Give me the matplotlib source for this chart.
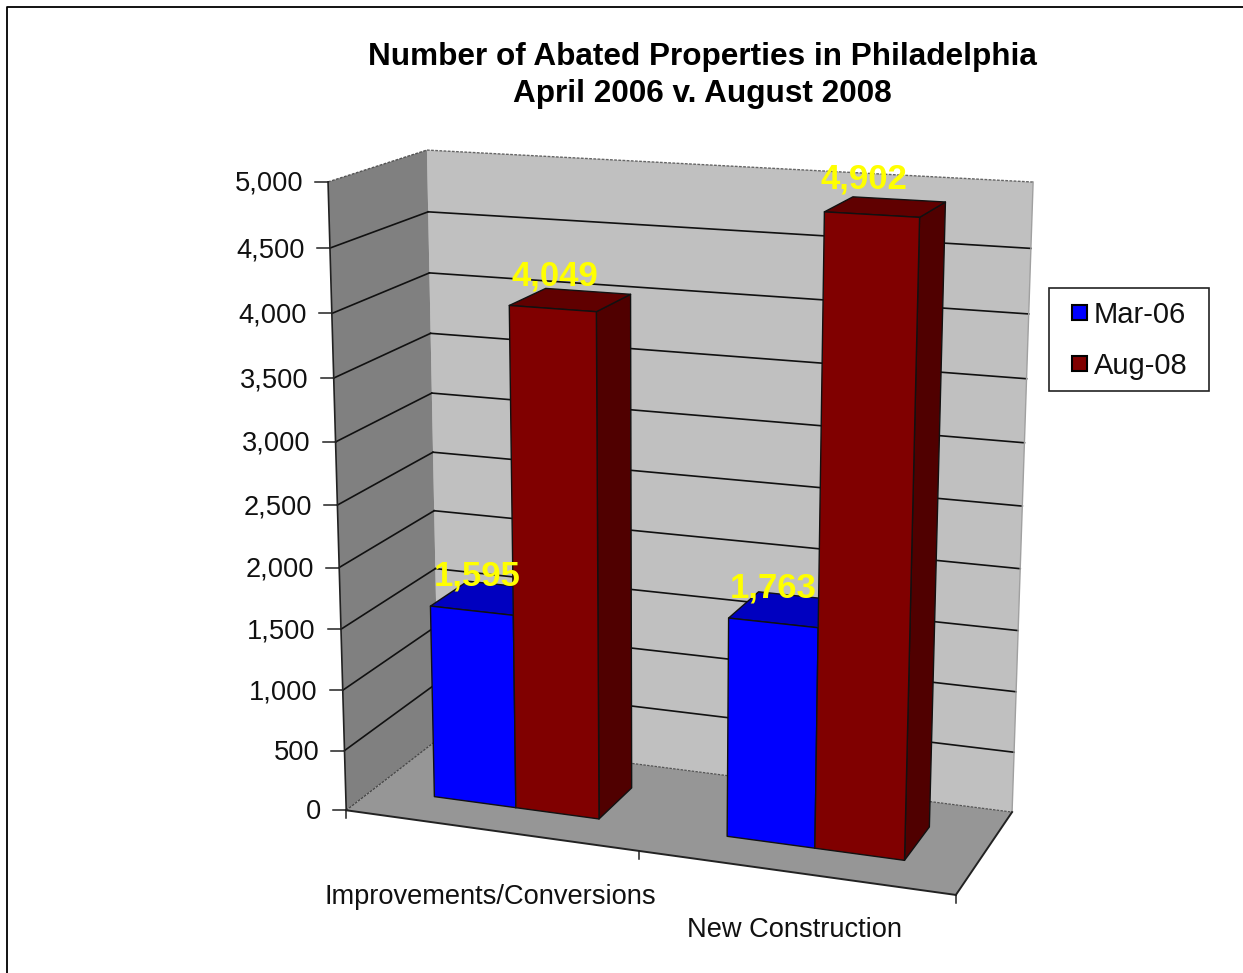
import numpy as np
import matplotlib
matplotlib.use('Agg')
import matplotlib.pyplot as plt
from matplotlib.patches import Polygon, Rectangle

plt.rcParams['font.family'] = ['Liberation Sans', 'DejaVu Sans']

# 数据
categories = ['Improvements/Conversions', 'New Construction']
series_names = ['Mar-06', 'Aug-08']
mar_06 = [1595, 1763]
aug_08 = [4049, 4902]
y_ticks = [0, 500, 1000, 1500, 2000, 2500, 3000, 3500, 4000, 4500, 5000]

# 颜色
blue = ('#0000ff', '#0000c0')
red = ('#800000', '#600000', '#500000')
dark_blue_side = '#000080'

Y_MAX = 5000.0
# 箱体角点 (x, 数值, 深度) -> 屏幕像素, 用来解透视矩阵
corners = [
    ((0, 0, 0), (348, 812)),
    ((0, 5000, 0), (327, 181)),
    ((1, 0, 0), (955, 894)),
    ((0, 0, 1), (437, 737)),
    ((0, 5000, 1), (428, 151)),
    ((1, 5000, 1), (1033, 182)),
    ((1, 0, 1), (1013, 813)),
]

rows = []
for (x, v, z), (px, py) in corners:
    v = v / Y_MAX
    rows.append([x, v, z, 1, 0, 0, 0, 0, -px * x, -px * v, -px * z, -px])
    rows.append([0, 0, 0, 0, x, v, z, 1, -py * x, -py * v, -py * z, -py])
P = np.linalg.svd(np.array(rows, dtype=float))[2][-1].reshape(3, 4)


def project(x, v, z):
    q = P @ np.array([x, v / Y_MAX, z, 1.0])
    return q[0] / q[2], q[1] / q[2]


fig = plt.figure(figsize=(12.43, 9.73), dpi=100)
ax = fig.add_axes([0, 0, 1, 1])
ax.set_xlim(0, 1243)
ax.set_ylim(973, 0)
ax.axis('off')

# 外框(只看得到左边和上边)
ax.plot([7, 7, 1243], [973, 6.5, 6.5], color='black', lw=1.3)


def face(pts, color, edge='none', lw=0.0, z=2):
    ax.add_patch(Polygon([project(*p) for p in pts], closed=True, facecolor=color,
                         edgecolor=edge, linewidth=lw, zorder=z, joinstyle='round'))


def line(a, b, color='black', lw=1.2, ls='-', z=3):
    pa, pb = project(*a), project(*b)
    ax.plot([pa[0], pb[0]], [pa[1], pb[1]], color=color, lw=lw, ls=ls, zorder=z)


# 墙和地面
face([(0, 0, 1), (1, 0, 1), (1, Y_MAX, 1), (0, Y_MAX, 1)], '#c0c0c0')
face([(0, 0, 0), (0, 0, 1), (0, Y_MAX, 1), (0, Y_MAX, 0)], '#808080')
face([(0, 0, 0), (1, 0, 0), (1, 0, 1), (0, 0, 1)], '#969696')

# 网格线
for t in y_ticks[1:-1]:
    line((0, t, 0), (0, t, 1), color='#111111', lw=1.2)
    line((0, t, 1), (1, t, 1), color='#111111', lw=1.2)

# 边线
line((0, Y_MAX, 0), (0, Y_MAX, 1), color='#555555', lw=1.0, ls=(0, (2, 1)))
line((0, Y_MAX, 1), (1, Y_MAX, 1), color='#666666', lw=1.0, ls=(0, (2, 1)))
line((1, Y_MAX, 1), (1, 0, 1), color='#a0a0a0', lw=1.0)
line((0, 0, 0), (0, 0, 1), color='#444444', lw=0.9, ls=(0, (2, 1)))
line((0, 0, 1), (1, 0, 1), color='#555555', lw=0.9, ls=(0, (2, 1)))
line((0, 0, 0), (0, Y_MAX, 0), color='#222222', lw=1.2)
line((0, 0, 0), (1, 0, 0), color='#222222', lw=1.4)
line((1, 0, 0), (1, 0, 1), color='#222222', lw=1.4)

# 柱子: 间隙宽度 150%
n_cat = len(categories)
bar_w = (1.0 / n_cat) / (len(series_names) + 1.5)
z0, z1 = 0.29, 0.70

# 数据标签相对柱顶的微调(像素), 顺序同绘制顺序
label_nudge = [(4, 5), (0, -1), (-2, 6), (-10, -6)]


def draw_bar(x0, x1, v, colors, zo):
    e = dict(edge='#111111', lw=1.0, z=zo)
    face([(x1, 0, z0), (x1, 0, z1), (x1, v, z1), (x1, v, z0)], colors[2], **e)
    face([(x0, v, z0), (x1, v, z0), (x1, v, z1), (x0, v, z1)], colors[1], **e)
    face([(x0, 0, z0), (x1, 0, z0), (x1, v, z0), (x0, v, z0)], colors[0], **e)


labels = []
for i in range(n_cat):
    left = i / n_cat + 0.75 * bar_w
    for j, (vals, cols) in enumerate([(mar_06, (*blue, dark_blue_side)), (aug_08, red)]):
        x0 = left + j * bar_w
        x1 = x0 + bar_w
        draw_bar(x0, x1, vals[i], cols, 5 + i * 2 + j * 0.5)
        cx = (x0 + x1) / 2
        labels.append((project(cx, vals[i], z0)[0] + 2, project(cx, vals[i], z1)[1] - 5, vals[i]))

# 数据标签
for (lx, ly, v), (dx, dy) in zip(labels, label_nudge):
    ax.text(lx + dx, ly + dy, format(v, ','), color='#ffff00', fontsize=25, fontweight='bold',
            ha='center', va='baseline', zorder=20)

# y轴刻度
for t in y_ticks:
    px, py = project(0, t, 0)
    ax.plot([px - 13, px], [py, py], color='#222222', lw=1.1, zorder=4)
    ax.text(px - 25, py + 2, format(t, ','), fontsize=19.6, color='#111111',
            ha='right', va='center')

# x轴刻度
for i in range(n_cat + 1):
    px, py = project(i / n_cat, 0, 0)
    ax.plot([px, px], [py, py + 8], color='#222222', lw=1.1, zorder=4)

# 类别标签
for i, name in enumerate(categories):
    px = project((i + 0.5) / n_cat, 0, 0)[0]
    ax.text(px, [897, 930][i], name, fontsize=19.6, color='#111111', ha='center', va='center')

# 标题
ax.text(702, 57, 'Number of Abated Properties in Philadelphia', fontsize=22.7, fontweight='bold',
        color='black', ha='center', va='center')
ax.text(702, 94, 'April 2006 v. August 2008', fontsize=22.7, fontweight='bold',
        color='black', ha='center', va='center')

# 图例
ax.add_patch(Rectangle((1049, 288), 160, 103, facecolor='white', edgecolor='#222222', lw=1.2, zorder=6))
for name, color, y in zip(series_names, [blue[0], red[0]], [313, 364]):
    ax.add_patch(Rectangle((1072, y - 8), 15, 15, facecolor=color, edgecolor='black', lw=1.5, zorder=7))
    ax.text(1094, y + 2, name, fontsize=21, color='#111111', ha='left', va='center', zorder=7)

plt.savefig('out.png', dpi=100)
